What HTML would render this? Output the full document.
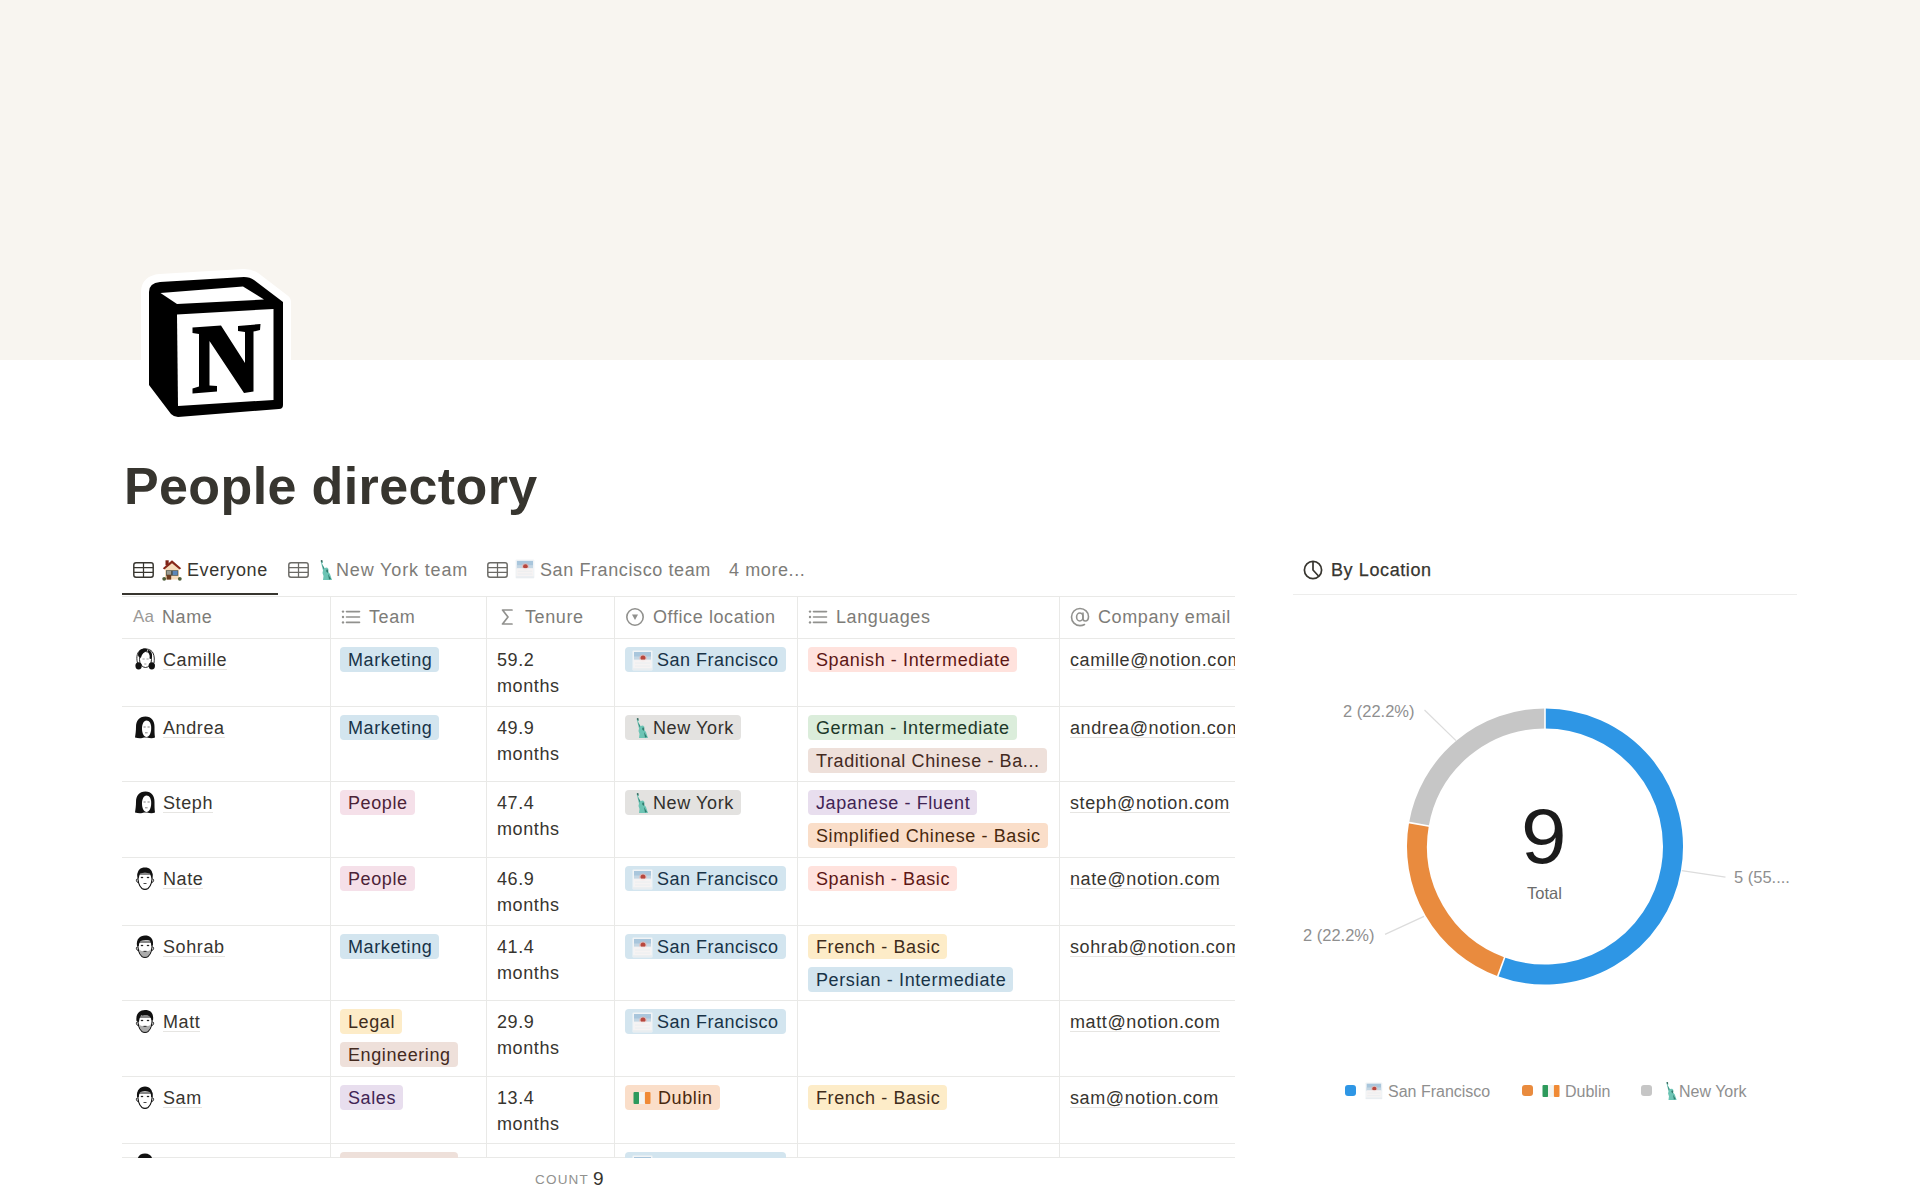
<!DOCTYPE html>
<html><head><meta charset="utf-8">
<style>
*{margin:0;padding:0;box-sizing:border-box}
html,body{width:1920px;height:1199px;overflow:hidden;background:#fff}
body{font-family:"Liberation Sans",sans-serif;color:#37352f;position:relative}
.abs{position:absolute}
.t{position:absolute;white-space:nowrap;font-size:18px;letter-spacing:0.60px;line-height:26px}
.tag{position:absolute;height:25px;line-height:26px;border-radius:4px;font-size:18px;letter-spacing:0.60px;padding:0 7px 0 8px;white-space:nowrap}
.blue{background:#d3e5ef;color:#183347}
.pink{background:#f5e0e9;color:#4c2337}
.yellow{background:#fdecc8;color:#402c1b}
.brown{background:#eee0da;color:#442a1e}
.purple{background:#e8deee;color:#412454}
.gray{background:#e3e2e0;color:#32302c}
.orange{background:#fadec9;color:#49290e}
.red{background:#ffe2dd;color:#5d1715}
.green{background:#dbeddb;color:#1c3829}
.ul{border-bottom:1px solid #e6e5e2;line-height:17px}
</style></head><body>

<div class="abs" style="left:0;top:0;width:1920px;height:360px;background:#f8f5f0"></div>
<svg class="abs" style="left:0;top:0" width="320" height="440" viewBox="0 0 320 440">
<path d="M160 282 L244 277 Q250 277 254 280 L283 302 L283 405 Q283 409 279 409 L178 417 Q174 417 171 414 L149 385 L149 292 Q149 283 160 282 Z" fill="#fff" stroke="#fff" stroke-width="16" stroke-linejoin="round"/>
<path d="M160 282 L244 277 Q250 277 254 280 L283 302 L283 405 Q283 409 279 409 L178 417 Q174 417 171 414 L149 385 L149 292 Q149 283 160 282 Z" fill="#000"/>
<path d="M160.5 293 L243 286.5 L264 299.5 L177 304 Z" fill="#fff"/>
<path d="M177 314.5 L273.5 309 L273.5 400 L178 406 Z" fill="#fff"/>
<path d="M192.5 327.5 L221 325.5 L245 363 L245 332 L238 331 L238 326 L260.5 324 L260 330 L253.5 331.5 L253.5 391.5 L244 393 L209.5 341 L209.5 385.5 L217 386 L217 391.5 L192.5 393.5 L192.5 388.5 L199 386.5 L199 334 L192.5 333 Z" fill="#000"/>
</svg>
<div class="t" style="left:124px;top:456px;font-size:52px;line-height:60px;font-weight:700;letter-spacing:0.38px;color:#37352f">People directory</div>
<svg class="abs" style="left:133px;top:562px" width="21" height="16" viewBox="0 0 21 16">
<rect x="0.8" y="0.8" width="19.4" height="14.4" rx="2.2" fill="none" stroke="#37352f" stroke-width="1.45"/>
<path d="M1 5.6 H20 M1 10.4 H20 M10.5 1 V15" stroke="#37352f" stroke-width="1.25"/>
</svg>
<svg class="abs" style="left:162px;top:560px" width="20" height="21" viewBox="0 0 20 21">
<path d="M3 8 L10 2 L17 8 L17 19.5 L3 19.5 Z" fill="#f5dcbc"/>
<rect x="3.5" y="0.3" width="3.2" height="5" fill="#7d2417"/>
<path d="M0.8 8.2 L10 0.3 L19.2 8.2 L17.6 9.6 L10 3.2 L2.4 9.6 Z" fill="#86281a"/>
<rect x="4" y="10.3" width="12.2" height="5.4" fill="#44493f"/>
<rect x="4.6" y="10.9" width="4.6" height="4" fill="#9a9c92"/>
<rect x="10.6" y="10.9" width="5" height="4.2" fill="#5a87b8"/>
<rect x="4.6" y="14.8" width="4.6" height="4.8" fill="#6d3d1f"/>
<circle cx="2.2" cy="18.8" r="1.9" fill="#4f5e3a"/>
<circle cx="17.8" cy="18.8" r="1.9" fill="#4f5e3a"/>
</svg>
<div class="t" style="left:187px;top:557px;color:#37352f">Everyone</div>
<svg class="abs" style="left:288px;top:562px" width="21" height="16" viewBox="0 0 21 16">
<rect x="0.8" y="0.8" width="19.4" height="14.4" rx="2.2" fill="none" stroke="#6b6a66" stroke-width="1.45"/>
<path d="M1 5.6 H20 M1 10.4 H20 M10.5 1 V15" stroke="#6b6a66" stroke-width="1.25"/>
</svg>
<svg class="abs" style="left:318px;top:559px" width="16.0" height="22.0" viewBox="0 0 16 22">
<path d="M2.5 1.5 L4 1 L5 3.5 L4 4.5 L6.5 9 L9 8.5 L10.5 10 L10 12.5 L12 15 L13.5 19.5 L14 21 L5 21 L5.5 17 L4.5 14 L5 11.5 Z" fill="#6cc4b4"/>
<path d="M3 1 L4.6 1.5 L4.2 3.5 L3.2 3 Z" fill="#3e5f57"/>
<path d="M4 5 L6 9 L5.5 10.5 Z M9 10 L10.5 12 L9.5 14 L8 12 Z M10 15 L13 20 L11 20.5 Z" fill="#2f7c6e"/>
</svg>
<div class="t" style="left:336px;top:557px;color:#7d7c78;letter-spacing:0.85px">New York team</div>
<svg class="abs" style="left:487px;top:562px" width="21" height="16" viewBox="0 0 21 16">
<rect x="0.8" y="0.8" width="19.4" height="14.4" rx="2.2" fill="none" stroke="#6b6a66" stroke-width="1.45"/>
<path d="M1 5.6 H20 M1 10.4 H20 M10.5 1 V15" stroke="#6b6a66" stroke-width="1.25"/>
</svg>
<svg class="abs" style="left:515px;top:559px" width="19.9" height="19.9" viewBox="0 0 21 21">
<rect x="0.5" y="0.5" width="20" height="20" rx="1" fill="#f1f4f6"/>
<rect x="2" y="2" width="17" height="8" fill="#a9c6dc"/>
<rect x="2" y="6.5" width="17" height="4" fill="#c4d6e3"/>
<circle cx="11" cy="8.3" r="3.8" fill="#eab9b4" opacity="0.7"/>
<circle cx="11" cy="8" r="2.5" fill="#b8473d"/>
<rect x="2" y="9.6" width="17" height="8.4" fill="#f6f3f3" opacity="0.9"/>
<path d="M3 13 H18 M3 16 H18" stroke="#e8ecef" stroke-width="0.8"/>
<rect x="1" y="18.6" width="19" height="1" fill="#e3e8ec"/>
</svg>
<div class="t" style="left:540px;top:557px;color:#7d7c78">San Francisco team</div>
<div class="t" style="left:729px;top:557px;color:#7d7c78">4 more...</div>
<div class="abs" style="left:122px;top:593px;width:156px;height:2px;background:#37352f"></div>
<div class="abs" style="left:122px;top:595px;width:1113px;height:563px;overflow:hidden">
<div class="abs" style="left:0;top:1px;width:1113px;height:1px;background:#e9e9e7"></div>
<div class="abs" style="left:0;top:43px;width:1113px;height:1px;background:#e9e9e7"></div>
<div class="abs" style="left:0;top:111px;width:1113px;height:1px;background:#e9e9e7"></div>
<div class="abs" style="left:0;top:186px;width:1113px;height:1px;background:#e9e9e7"></div>
<div class="abs" style="left:0;top:262px;width:1113px;height:1px;background:#e9e9e7"></div>
<div class="abs" style="left:0;top:330px;width:1113px;height:1px;background:#e9e9e7"></div>
<div class="abs" style="left:0;top:405px;width:1113px;height:1px;background:#e9e9e7"></div>
<div class="abs" style="left:0;top:481px;width:1113px;height:1px;background:#e9e9e7"></div>
<div class="abs" style="left:0;top:548px;width:1113px;height:1px;background:#e9e9e7"></div>
<div class="abs" style="left:0;top:562px;width:1113px;height:1px;background:#e9e9e7"></div>
<div class="abs" style="left:208px;top:1px;width:1px;height:563px;background:#e9e9e7"></div>
<div class="abs" style="left:364px;top:1px;width:1px;height:563px;background:#e9e9e7"></div>
<div class="abs" style="left:492px;top:1px;width:1px;height:563px;background:#e9e9e7"></div>
<div class="abs" style="left:675px;top:1px;width:1px;height:563px;background:#e9e9e7"></div>
<div class="abs" style="left:937px;top:1px;width:1px;height:563px;background:#e9e9e7"></div>
<div class="t" style="left:11px;top:9px;color:#9b9a97;font-size:17px;letter-spacing:0.2px">Aa</div>
<div class="t" style="left:40px;top:9px;color:#7d7c78;">Name</div>
<svg class="abs" style="left:219px;top:14px" width="20" height="16" viewBox="0 0 20 16"><circle cx="2" cy="2.6" r="1.2" fill="#91918e"/><circle cx="2" cy="8" r="1.2" fill="#91918e"/><circle cx="2" cy="13.4" r="1.2" fill="#91918e"/><path d="M5.5 2.6 H18.5 M5.5 8 H18.5 M5.5 13.4 H18.5" stroke="#91918e" stroke-width="1.6" stroke-linecap="round"/></svg>
<div class="t" style="left:247px;top:9px;color:#7d7c78;">Team</div>
<svg class="abs" style="left:378px;top:13px" width="14" height="18" viewBox="0 0 14 18"><path d="M12 2 H2.5 L8 9 L2.5 16 H12" fill="none" stroke="#91918e" stroke-width="1.7" stroke-linejoin="round" stroke-linecap="round"/></svg>
<div class="t" style="left:403px;top:9px;color:#7d7c78;">Tenure</div>
<svg class="abs" style="left:503px;top:12px" width="20" height="20" viewBox="0 0 20 20"><circle cx="10" cy="10" r="8.2" fill="none" stroke="#91918e" stroke-width="1.6"/><path d="M7 7.6 H13 L10 13 Z" fill="#91918e"/></svg>
<div class="t" style="left:531px;top:9px;color:#7d7c78;">Office location</div>
<svg class="abs" style="left:686px;top:14px" width="20" height="16" viewBox="0 0 20 16"><circle cx="2" cy="2.6" r="1.2" fill="#91918e"/><circle cx="2" cy="8" r="1.2" fill="#91918e"/><circle cx="2" cy="13.4" r="1.2" fill="#91918e"/><path d="M5.5 2.6 H18.5 M5.5 8 H18.5 M5.5 13.4 H18.5" stroke="#91918e" stroke-width="1.6" stroke-linecap="round"/></svg>
<div class="t" style="left:714px;top:9px;color:#7d7c78;">Languages</div>
<svg class="abs" style="left:948px;top:12px" width="20" height="20" viewBox="0 0 20 20"><path d="M14.5 17.5 C13 18.3 11.5 18.6 10 18.6 C5.2 18.6 1.5 14.8 1.5 10 C1.5 5.2 5.2 1.5 10 1.5 C14.8 1.5 18.5 5 18.5 9.5 C18.5 12.3 17 14 15.2 14 C13.7 14 13 13 13 11.5 V6" fill="none" stroke="#91918e" stroke-width="1.6" stroke-linecap="round"/><ellipse cx="9.8" cy="10" rx="3.2" ry="4" fill="none" stroke="#91918e" stroke-width="1.6"/></svg>
<div class="t" style="left:976px;top:9px;color:#7d7c78;">Company email</div>
<svg class="abs" style="left:12px;top:53px" width="22" height="23" viewBox="0 0 22 23"><path d="M3.5 15 C2 9 3 3 8 1.5 C12 0.3 17 1 19 5 C20.5 8 20.5 12 20 15" fill="none" stroke="#111" stroke-width="0.9"/>
<ellipse cx="11.5" cy="11.5" rx="6" ry="8" fill="#fff" stroke="#111" stroke-width="0.9"/>
<path d="M4 7 C4 3 7 0.5 11 0.5 C13 0.5 14 1.5 13 3 C10 3.5 8 6 7 9.5 C6 10 4.5 9.5 4 7 Z" fill="#111"/>
<path d="M14 2 C17 2.5 18.5 5 18 9 C17.8 11 16.5 11.5 15.5 10.5 C16 7.5 15.5 5 13.5 3.5 Z" fill="#111"/>
<ellipse cx="4.6" cy="17.8" rx="3.2" ry="3.6" fill="#111"/><ellipse cx="17.8" cy="17.8" rx="3.2" ry="3.6" fill="#111"/>
<path d="M8.5 11 h2.2 M12.5 11 h2.2 M10.2 16 h2.2" stroke="#777" stroke-width="0.7"/></svg>
<div class="t" style="left:41px;top:52px;color:#37352f"><span class="ul" style="display:inline-block">Camille</span></div>
<div class="tag blue" style="left:218px;top:51.5px;">Marketing</div>
<div class="t" style="left:375px;top:52px;color:#37352f;">59.2</div>
<div class="t" style="left:375px;top:78px;color:#37352f;">months</div>
<div class="tag blue" style="left:503px;top:51.5px;padding-left:32px;letter-spacing:0.5px">San Francisco</div>
<svg class="abs" style="left:510px;top:54.5px" width="21.0" height="21.0" viewBox="0 0 21 21">
<rect x="0.5" y="0.5" width="20" height="20" rx="1" fill="#f1f4f6"/>
<rect x="2" y="2" width="17" height="8" fill="#a9c6dc"/>
<rect x="2" y="6.5" width="17" height="4" fill="#c4d6e3"/>
<circle cx="11" cy="8.3" r="3.8" fill="#eab9b4" opacity="0.7"/>
<circle cx="11" cy="8" r="2.5" fill="#b8473d"/>
<rect x="2" y="9.6" width="17" height="8.4" fill="#f6f3f3" opacity="0.9"/>
<path d="M3 13 H18 M3 16 H18" stroke="#e8ecef" stroke-width="0.8"/>
<rect x="1" y="18.6" width="19" height="1" fill="#e3e8ec"/>
</svg>
<div class="tag red" style="left:686px;top:51.5px;">Spanish - Intermediate</div>
<div class="t" style="left:948px;top:52px;color:#37352f"><span class="ul" style="display:inline-block">camille@notion.com</span></div>
<svg class="abs" style="left:12px;top:121px" width="22" height="23" viewBox="0 0 22 23"><path d="M11.5 0.5 C5 0.5 2 5 2 11 C2 15 1.5 18 1 21.5 C4 22.5 8 22.5 10 21.5 L13 21.5 C16 22.5 19 22.5 21 21.5 C20.5 18 20.5 15 20.5 11 C20.5 5 17.5 0.5 11.5 0.5 Z" fill="#111"/>
<path d="M12.5 4.5 C15.5 4.5 17.2 7.5 17.2 12 C17.2 17 15.2 21 12.5 21 C9.8 21 8 17 8 12.5 C8 8.5 9.5 4.5 12.5 4.5 Z" fill="#fff"/>
<path d="M9.5 11 h2.2 M13.5 11 h2.2 M11 16.8 h2.6" stroke="#666" stroke-width="0.8"/></svg>
<div class="t" style="left:41px;top:120px;color:#37352f"><span class="ul" style="display:inline-block">Andrea</span></div>
<div class="tag blue" style="left:218px;top:119.5px;">Marketing</div>
<div class="t" style="left:375px;top:120px;color:#37352f;">49.9</div>
<div class="t" style="left:375px;top:146px;color:#37352f;">months</div>
<div class="tag gray" style="left:503px;top:119.5px;padding-left:28px">New York</div>
<svg class="abs" style="left:512px;top:121.5px" width="16.0" height="22.0" viewBox="0 0 16 22">
<path d="M2.5 1.5 L4 1 L5 3.5 L4 4.5 L6.5 9 L9 8.5 L10.5 10 L10 12.5 L12 15 L13.5 19.5 L14 21 L5 21 L5.5 17 L4.5 14 L5 11.5 Z" fill="#6cc4b4"/>
<path d="M3 1 L4.6 1.5 L4.2 3.5 L3.2 3 Z" fill="#3e5f57"/>
<path d="M4 5 L6 9 L5.5 10.5 Z M9 10 L10.5 12 L9.5 14 L8 12 Z M10 15 L13 20 L11 20.5 Z" fill="#2f7c6e"/>
</svg>
<div class="tag green" style="left:686px;top:119.5px;">German - Intermediate</div>
<div class="tag brown" style="left:686px;top:152.5px;">Traditional Chinese - Ba...</div>
<div class="t" style="left:948px;top:120px;color:#37352f"><span class="ul" style="display:inline-block">andrea@notion.com</span></div>
<svg class="abs" style="left:12px;top:196px" width="22" height="23" viewBox="0 0 22 23"><path d="M11.5 0.5 C5 0.5 2 5 2 11 C2 15 1.5 18 1 21.5 C4 22.5 8 22.5 10 21.5 L13 21.5 C16 22.5 19 22.5 21 21.5 C20.5 18 20.5 15 20.5 11 C20.5 5 17.5 0.5 11.5 0.5 Z" fill="#111"/>
<path d="M12.5 4.5 C15.5 4.5 17.2 7.5 17.2 12 C17.2 17 15.2 21 12.5 21 C9.8 21 8 17 8 12.5 C8 8.5 9.5 4.5 12.5 4.5 Z" fill="#fff"/>
<path d="M9.5 11 h2.2 M13.5 11 h2.2 M11 16.8 h2.6" stroke="#666" stroke-width="0.8"/></svg>
<div class="t" style="left:41px;top:195px;color:#37352f"><span class="ul" style="display:inline-block">Steph</span></div>
<div class="tag pink" style="left:218px;top:194.5px;">People</div>
<div class="t" style="left:375px;top:195px;color:#37352f;">47.4</div>
<div class="t" style="left:375px;top:221px;color:#37352f;">months</div>
<div class="tag gray" style="left:503px;top:194.5px;padding-left:28px">New York</div>
<svg class="abs" style="left:512px;top:196.5px" width="16.0" height="22.0" viewBox="0 0 16 22">
<path d="M2.5 1.5 L4 1 L5 3.5 L4 4.5 L6.5 9 L9 8.5 L10.5 10 L10 12.5 L12 15 L13.5 19.5 L14 21 L5 21 L5.5 17 L4.5 14 L5 11.5 Z" fill="#6cc4b4"/>
<path d="M3 1 L4.6 1.5 L4.2 3.5 L3.2 3 Z" fill="#3e5f57"/>
<path d="M4 5 L6 9 L5.5 10.5 Z M9 10 L10.5 12 L9.5 14 L8 12 Z M10 15 L13 20 L11 20.5 Z" fill="#2f7c6e"/>
</svg>
<div class="tag purple" style="left:686px;top:194.5px;">Japanese - Fluent</div>
<div class="tag orange" style="left:686px;top:227.5px;">Simplified Chinese - Basic</div>
<div class="t" style="left:948px;top:195px;color:#37352f"><span class="ul" style="display:inline-block">steph@notion.com</span></div>
<svg class="abs" style="left:12px;top:272px" width="22" height="23" viewBox="0 0 22 23"><path d="M4 7 C3.5 14 5 19 8 21.5 C9.5 22.6 12.5 22.6 14 21.5 C17 19 18.5 14 18 7 Z" fill="#fff" stroke="#111" stroke-width="1.1"/>
<path d="M3.5 12 C2 11.5 1.8 15 4 15.5 M18.5 12 C20 11.5 20.2 15 18 15.5" fill="none" stroke="#111" stroke-width="0.9"/>
<path d="M3.5 9 C3 3 6.5 0.5 11 0.5 C15.5 0.5 18.5 3 18.5 8 L18 12 C17 10 16.5 8 16 6.5 C13 5.5 9 5.5 6 6.5 C5.5 8 5 10 4.5 12 Z" fill="#111"/>
<ellipse cx="8" cy="10.5" rx="1.3" ry="0.8" fill="#222"/><ellipse cx="14" cy="10.5" rx="1.3" ry="0.8" fill="#222"/>
<path d="M9.5 16.5 h3" stroke="#333" stroke-width="0.9"/></svg>
<div class="t" style="left:41px;top:271px;color:#37352f"><span class="ul" style="display:inline-block">Nate</span></div>
<div class="tag pink" style="left:218px;top:270.5px;">People</div>
<div class="t" style="left:375px;top:271px;color:#37352f;">46.9</div>
<div class="t" style="left:375px;top:297px;color:#37352f;">months</div>
<div class="tag blue" style="left:503px;top:270.5px;padding-left:32px;letter-spacing:0.5px">San Francisco</div>
<svg class="abs" style="left:510px;top:273.5px" width="21.0" height="21.0" viewBox="0 0 21 21">
<rect x="0.5" y="0.5" width="20" height="20" rx="1" fill="#f1f4f6"/>
<rect x="2" y="2" width="17" height="8" fill="#a9c6dc"/>
<rect x="2" y="6.5" width="17" height="4" fill="#c4d6e3"/>
<circle cx="11" cy="8.3" r="3.8" fill="#eab9b4" opacity="0.7"/>
<circle cx="11" cy="8" r="2.5" fill="#b8473d"/>
<rect x="2" y="9.6" width="17" height="8.4" fill="#f6f3f3" opacity="0.9"/>
<path d="M3 13 H18 M3 16 H18" stroke="#e8ecef" stroke-width="0.8"/>
<rect x="1" y="18.6" width="19" height="1" fill="#e3e8ec"/>
</svg>
<div class="tag red" style="left:686px;top:270.5px;">Spanish - Basic</div>
<div class="t" style="left:948px;top:271px;color:#37352f"><span class="ul" style="display:inline-block">nate@notion.com</span></div>
<svg class="abs" style="left:12px;top:340px" width="22" height="23" viewBox="0 0 22 23"><path d="M4 7 C3.5 14 5 19 8 21.5 C9.5 22.6 12.5 22.6 14 21.5 C17 19 18.5 14 18 7 Z" fill="#fff" stroke="#111" stroke-width="1.1"/>
<path d="M3.5 12 C2 11.5 1.8 15 4 15.5 M18.5 12 C20 11.5 20.2 15 18 15.5" fill="none" stroke="#111" stroke-width="0.9"/>
<path d="M5 14 C5.5 19 8 22 11 22 C14 22 16.5 19 17 14 C15 17 13 15.5 11 15.5 C9 15.5 7 17 5 14 Z" fill="#888" opacity="0.7"/><path d="M3 11 C2 4 6 0.5 11 0.5 C16 0.5 19.5 3 19 10 L17.5 11 C17 8 16.5 6.5 15.5 5.5 C12.5 5 9 5 6.5 6 C5.5 7.5 5 9 4.8 11 Z" fill="#111"/>
<ellipse cx="8" cy="10.5" rx="1.3" ry="0.8" fill="#222"/><ellipse cx="14" cy="10.5" rx="1.3" ry="0.8" fill="#222"/>
<path d="M9.5 16.5 h3" stroke="#333" stroke-width="0.9"/></svg>
<div class="t" style="left:41px;top:339px;color:#37352f"><span class="ul" style="display:inline-block">Sohrab</span></div>
<div class="tag blue" style="left:218px;top:338.5px;">Marketing</div>
<div class="t" style="left:375px;top:339px;color:#37352f;">41.4</div>
<div class="t" style="left:375px;top:365px;color:#37352f;">months</div>
<div class="tag blue" style="left:503px;top:338.5px;padding-left:32px;letter-spacing:0.5px">San Francisco</div>
<svg class="abs" style="left:510px;top:341.5px" width="21.0" height="21.0" viewBox="0 0 21 21">
<rect x="0.5" y="0.5" width="20" height="20" rx="1" fill="#f1f4f6"/>
<rect x="2" y="2" width="17" height="8" fill="#a9c6dc"/>
<rect x="2" y="6.5" width="17" height="4" fill="#c4d6e3"/>
<circle cx="11" cy="8.3" r="3.8" fill="#eab9b4" opacity="0.7"/>
<circle cx="11" cy="8" r="2.5" fill="#b8473d"/>
<rect x="2" y="9.6" width="17" height="8.4" fill="#f6f3f3" opacity="0.9"/>
<path d="M3 13 H18 M3 16 H18" stroke="#e8ecef" stroke-width="0.8"/>
<rect x="1" y="18.6" width="19" height="1" fill="#e3e8ec"/>
</svg>
<div class="tag yellow" style="left:686px;top:338.5px;">French - Basic</div>
<div class="tag blue" style="left:686px;top:371.5px;">Persian - Intermediate</div>
<div class="t" style="left:948px;top:339px;color:#37352f"><span class="ul" style="display:inline-block">sohrab@notion.com</span></div>
<svg class="abs" style="left:12px;top:415px" width="22" height="23" viewBox="0 0 22 23"><path d="M4 7 C3.5 14 5 19 8 21.5 C9.5 22.6 12.5 22.6 14 21.5 C17 19 18.5 14 18 7 Z" fill="#fff" stroke="#111" stroke-width="1.1"/>
<path d="M3.5 12 C2 11.5 1.8 15 4 15.5 M18.5 12 C20 11.5 20.2 15 18 15.5" fill="none" stroke="#111" stroke-width="0.9"/>
<path d="M5 14 C5.5 19 8 22 11 22 C14 22 16.5 19 17 14 C15 17 13 15.5 11 15.5 C9 15.5 7 17 5 14 Z" fill="#888" opacity="0.7"/><path d="M2.5 11 C1.5 4 5.5 0 11 0 C16.5 0 20 3 19 10.5 L17.5 10 C17 8 16 6.5 15 6 C12 5 9 6 7 5.5 C6 7 5.2 9 5 12 Z" fill="#111"/>
<ellipse cx="8" cy="10.5" rx="1.3" ry="0.8" fill="#222"/><ellipse cx="14" cy="10.5" rx="1.3" ry="0.8" fill="#222"/>
<path d="M9.5 16.5 h3" stroke="#333" stroke-width="0.9"/></svg>
<div class="t" style="left:41px;top:414px;color:#37352f"><span class="ul" style="display:inline-block">Matt</span></div>
<div class="tag yellow" style="left:218px;top:413.5px;">Legal</div>
<div class="tag brown" style="left:218px;top:446.5px;">Engineering</div>
<div class="t" style="left:375px;top:414px;color:#37352f;">29.9</div>
<div class="t" style="left:375px;top:440px;color:#37352f;">months</div>
<div class="tag blue" style="left:503px;top:413.5px;padding-left:32px;letter-spacing:0.5px">San Francisco</div>
<svg class="abs" style="left:510px;top:416.5px" width="21.0" height="21.0" viewBox="0 0 21 21">
<rect x="0.5" y="0.5" width="20" height="20" rx="1" fill="#f1f4f6"/>
<rect x="2" y="2" width="17" height="8" fill="#a9c6dc"/>
<rect x="2" y="6.5" width="17" height="4" fill="#c4d6e3"/>
<circle cx="11" cy="8.3" r="3.8" fill="#eab9b4" opacity="0.7"/>
<circle cx="11" cy="8" r="2.5" fill="#b8473d"/>
<rect x="2" y="9.6" width="17" height="8.4" fill="#f6f3f3" opacity="0.9"/>
<path d="M3 13 H18 M3 16 H18" stroke="#e8ecef" stroke-width="0.8"/>
<rect x="1" y="18.6" width="19" height="1" fill="#e3e8ec"/>
</svg>
<div class="t" style="left:948px;top:414px;color:#37352f"><span class="ul" style="display:inline-block">matt@notion.com</span></div>
<svg class="abs" style="left:12px;top:491px" width="22" height="23" viewBox="0 0 22 23"><path d="M4 7 C3.5 14 5 19 8 21.5 C9.5 22.6 12.5 22.6 14 21.5 C17 19 18.5 14 18 7 Z" fill="#fff" stroke="#111" stroke-width="1.1"/>
<path d="M3.5 12 C2 11.5 1.8 15 4 15.5 M18.5 12 C20 11.5 20.2 15 18 15.5" fill="none" stroke="#111" stroke-width="0.9"/>
<path d="M3 11 C2.5 4 6 0.5 11 0.5 C16 0.5 19 4 18.5 11 L17.2 11 C17 8 16.5 6.5 15.5 6 C12.5 5 9.5 5 6.5 6 C5.5 7 5 8.5 4.8 11 Z" fill="#111"/>
<ellipse cx="8" cy="10.5" rx="1.3" ry="0.8" fill="#222"/><ellipse cx="14" cy="10.5" rx="1.3" ry="0.8" fill="#222"/>
<path d="M9.5 16.5 h3" stroke="#333" stroke-width="0.9"/></svg>
<div class="t" style="left:41px;top:490px;color:#37352f"><span class="ul" style="display:inline-block">Sam</span></div>
<div class="tag purple" style="left:218px;top:489.5px;">Sales</div>
<div class="t" style="left:375px;top:490px;color:#37352f;">13.4</div>
<div class="t" style="left:375px;top:516px;color:#37352f;">months</div>
<div class="tag orange" style="left:503px;top:489.5px;padding-left:33px">Dublin</div>
<svg class="abs" style="left:511px;top:495.5px" width="18" height="14" viewBox="0 0 18 14">
<rect x="0.5" y="1" width="5.6" height="12" rx="1" fill="#2e9a5c"/>
<rect x="6" y="1" width="6" height="12" fill="#f4f4f0"/>
<rect x="11.9" y="1" width="5.6" height="12" rx="1" fill="#f08a35"/>
</svg>
<div class="tag yellow" style="left:686px;top:489.5px;">French - Basic</div>
<div class="t" style="left:948px;top:490px;color:#37352f"><span class="ul" style="display:inline-block">sam@notion.com</span></div>
<svg class="abs" style="left:12px;top:558px" width="22" height="23" viewBox="0 0 22 23"><path d="M4 7 C3.5 14 5 19 8 21.5 C9.5 22.6 12.5 22.6 14 21.5 C17 19 18.5 14 18 7 Z" fill="#fff" stroke="#111" stroke-width="1.1"/>
<path d="M3.5 12 C2 11.5 1.8 15 4 15.5 M18.5 12 C20 11.5 20.2 15 18 15.5" fill="none" stroke="#111" stroke-width="0.9"/>
<path d="M3.5 9 C3 3 6.5 0.5 11 0.5 C15.5 0.5 18.5 3 18.5 8 L18 12 C17 10 16.5 8 16 6.5 C13 5.5 9 5.5 6 6.5 C5.5 8 5 10 4.5 12 Z" fill="#111"/>
<ellipse cx="8" cy="10.5" rx="1.3" ry="0.8" fill="#222"/><ellipse cx="14" cy="10.5" rx="1.3" ry="0.8" fill="#222"/>
<path d="M9.5 16.5 h3" stroke="#333" stroke-width="0.9"/></svg>
<div class="t" style="left:41px;top:557px;color:#37352f"><span class="ul" style="display:inline-block">Zoe</span></div>
<div class="tag brown" style="left:218px;top:556.5px;">Engineering</div>
<div class="t" style="left:375px;top:557px;color:#37352f;">10.0</div>
<div class="t" style="left:375px;top:583px;color:#37352f;">months</div>
<div class="tag blue" style="left:503px;top:556.5px;padding-left:32px;letter-spacing:0.5px">San Francisco</div>
<svg class="abs" style="left:510px;top:559.5px" width="21.0" height="21.0" viewBox="0 0 21 21">
<rect x="0.5" y="0.5" width="20" height="20" rx="1" fill="#f1f4f6"/>
<rect x="2" y="2" width="17" height="8" fill="#a9c6dc"/>
<rect x="2" y="6.5" width="17" height="4" fill="#c4d6e3"/>
<circle cx="11" cy="8.3" r="3.8" fill="#eab9b4" opacity="0.7"/>
<circle cx="11" cy="8" r="2.5" fill="#b8473d"/>
<rect x="2" y="9.6" width="17" height="8.4" fill="#f6f3f3" opacity="0.9"/>
<path d="M3 13 H18 M3 16 H18" stroke="#e8ecef" stroke-width="0.8"/>
<rect x="1" y="18.6" width="19" height="1" fill="#e3e8ec"/>
</svg>
<div class="t" style="left:948px;top:557px;color:#37352f"><span class="ul" style="display:inline-block">x@notion.com</span></div>
</div>
<div class="t" style="left:535px;top:1168px;font-size:13.5px;letter-spacing:1.2px;color:#91918e;line-height:24px">COUNT</div>
<div class="t" style="left:593px;top:1166px;font-size:19px;letter-spacing:0;color:#37352f;line-height:26px">9</div>
<svg class="abs" style="left:1302px;top:559px" width="22" height="22" viewBox="0 0 22 22"><circle cx="11" cy="11" r="8.6" fill="none" stroke="#37352f" stroke-width="1.7"/><path d="M11 2.5 V11 L16.5 17" fill="none" stroke="#37352f" stroke-width="1.7"/></svg>
<div class="t" style="left:1331px;top:557px;color:#37352f;-webkit-text-stroke:0.25px #37352f">By Location</div>
<div class="abs" style="left:1293px;top:594px;width:504px;height:1px;background:#ededec"></div>
<svg class="abs" style="left:0;top:0" width="1920" height="1199" viewBox="0 0 1920 1199"><path d="M1545.00 718.50 A128 128 0 1 1 1501.22 966.78" fill="none" stroke="#2e96e5" stroke-width="20"/><path d="M1501.22 966.78 A128 128 0 0 1 1418.94 824.27" fill="none" stroke="#e98b3e" stroke-width="20"/><path d="M1418.94 824.27 A128 128 0 0 1 1545.00 718.50" fill="none" stroke="#c6c6c6" stroke-width="20"/><line x1="1545.00" y1="729.50" x2="1545.00" y2="707.50" stroke="#fff" stroke-width="1.6"/><line x1="1504.98" y1="956.44" x2="1497.46" y2="977.12" stroke="#fff" stroke-width="1.6"/><line x1="1429.78" y1="826.18" x2="1408.11" y2="822.36" stroke="#fff" stroke-width="1.6"/><path d="M1424.5 710 L1456 740.6" stroke="#dcdcdc" stroke-width="1.2"/><path d="M1385 934.4 L1424 916.4" stroke="#dcdcdc" stroke-width="1.2"/><path d="M1681.8 870.6 L1725.5 877.1" stroke="#dcdcdc" stroke-width="1.2"/></svg>
<div class="t" style="left:1343px;top:700px;font-size:16.5px;letter-spacing:0;color:#8f8f8f;line-height:22px">2 (22.2%)</div>
<div class="t" style="left:1303px;top:924px;font-size:16.5px;letter-spacing:0;color:#8f8f8f;line-height:22px">2 (22.2%)</div>
<div class="t" style="left:1734px;top:866px;font-size:16.5px;letter-spacing:0;color:#8f8f8f;line-height:22px">5 (55....</div>
<div class="t" style="left:1521px;top:796px;font-size:78px;letter-spacing:0;color:#1b1b1b;line-height:80px;transform:scaleX(1.05);transform-origin:0 0">9</div>
<div class="t" style="left:1527px;top:882px;font-size:16.5px;letter-spacing:0;color:#6b6b6b;line-height:22px">Total</div>
<div class="abs" style="left:1345px;top:1085px;width:11px;height:11px;border-radius:3px;background:#2e96e5"></div>
<svg class="abs" style="left:1365px;top:1082px" width="17.8" height="17.8" viewBox="0 0 21 21">
<rect x="0.5" y="0.5" width="20" height="20" rx="1" fill="#f1f4f6"/>
<rect x="2" y="2" width="17" height="8" fill="#a9c6dc"/>
<rect x="2" y="6.5" width="17" height="4" fill="#c4d6e3"/>
<circle cx="11" cy="8.3" r="3.8" fill="#eab9b4" opacity="0.7"/>
<circle cx="11" cy="8" r="2.5" fill="#b8473d"/>
<rect x="2" y="9.6" width="17" height="8.4" fill="#f6f3f3" opacity="0.9"/>
<path d="M3 13 H18 M3 16 H18" stroke="#e8ecef" stroke-width="0.8"/>
<rect x="1" y="18.6" width="19" height="1" fill="#e3e8ec"/>
</svg>
<div class="t" style="left:1388px;top:1081px;font-size:16px;letter-spacing:0;color:#8f8f8f;line-height:22px">San Francisco</div>
<div class="abs" style="left:1522px;top:1085px;width:11px;height:11px;border-radius:3px;background:#e98b3e"></div>
<svg class="abs" style="left:1542px;top:1084px" width="18" height="14" viewBox="0 0 18 14">
<rect x="0.5" y="1" width="5.6" height="12" rx="1" fill="#2e9a5c"/>
<rect x="6" y="1" width="6" height="12" fill="#f4f4f0"/>
<rect x="11.9" y="1" width="5.6" height="12" rx="1" fill="#f08a35"/>
</svg>
<div class="t" style="left:1565px;top:1081px;font-size:16px;letter-spacing:0;color:#8f8f8f;line-height:22px">Dublin</div>
<div class="abs" style="left:1641px;top:1085px;width:11px;height:11px;border-radius:3px;background:#c6c6c6"></div>
<svg class="abs" style="left:1664px;top:1081px" width="14.4" height="19.8" viewBox="0 0 16 22">
<path d="M2.5 1.5 L4 1 L5 3.5 L4 4.5 L6.5 9 L9 8.5 L10.5 10 L10 12.5 L12 15 L13.5 19.5 L14 21 L5 21 L5.5 17 L4.5 14 L5 11.5 Z" fill="#6cc4b4"/>
<path d="M3 1 L4.6 1.5 L4.2 3.5 L3.2 3 Z" fill="#3e5f57"/>
<path d="M4 5 L6 9 L5.5 10.5 Z M9 10 L10.5 12 L9.5 14 L8 12 Z M10 15 L13 20 L11 20.5 Z" fill="#2f7c6e"/>
</svg>
<div class="t" style="left:1679px;top:1081px;font-size:16px;letter-spacing:0;color:#8f8f8f;line-height:22px">New York</div>
</body></html>
